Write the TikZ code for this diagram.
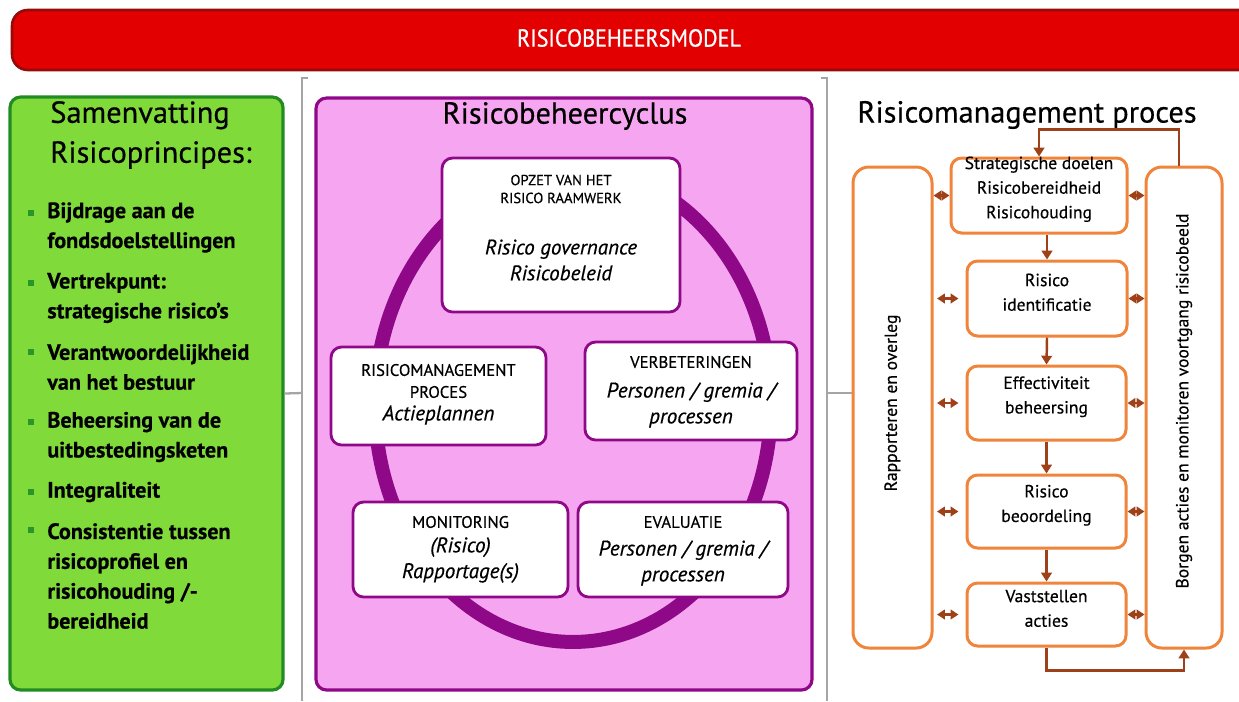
\documentclass[tikz,border=0pt]{standalone}
\usepackage{fontspec}
\setmainfont{PT Sans}[FakeBold=0.5]
\newfontfamily\bannerfont{PT Sans}[FakeStretch=0.9, FakeBold=0.8]
\usetikzlibrary{positioning,fit,arrows.meta}
\definecolor{bannerRed}{RGB}{226,0,0}
\definecolor{bannerDark}{RGB}{150,10,10}
\definecolor{leafGreen}{RGB}{128,218,58}
\definecolor{leafDark}{RGB}{34,140,34}
\definecolor{bulletGreen}{RGB}{40,150,40}
\definecolor{cyclePink}{RGB}{246,166,240}
\definecolor{cyclePurple}{RGB}{142,8,136}
\definecolor{procOrange}{RGB}{240,132,58}
\definecolor{arrowBrown}{RGB}{158,64,24}
\definecolor{bracketGray}{RGB}{165,165,165}

\begin{document}
\begin{tikzpicture}[x=0.02cm, y=-0.02cm,
    headtext/.style={font=\fontsize{17.3}{22.7}\selectfont},
    principe/.style={align=left, inner sep=0pt, font=\bfseries\fontsize{12.6}{17}\selectfont},
    bracketline/.style={bracketGray, line width=1.3pt},
    cyclebox/.style={draw=cyclePurple, line width=1.6pt, fill=white, rounded corners=6pt, inner sep=0pt},
    capstext/.style={align=center, font=\fontsize{9.5}{12.5}\selectfont},
    italtext/.style={align=center, font=\itshape\fontsize{12}{14.7}\selectfont},
    procbox/.style={draw=procOrange, line width=1.7pt, fill=white, rounded corners=6pt, inner sep=0pt, align=center, font=\fontsize{10}{14}\selectfont},
    sidebox/.style={draw=procOrange, line width=1.7pt, fill=white, rounded corners=9pt, inner sep=0pt},
    flow/.style={arrowBrown, line width=1.4pt, -{Triangle[length=5pt,width=6pt]}},
    biarrow/.style={arrowBrown, line width=1.4pt, {Triangle[length=4.5pt,width=5.5pt]}-{Triangle[length=4.5pt,width=5.5pt]}}]
  \useasboundingbox (0,0) rectangle (1239,701);

  % banner
  \node[fit={(12,10) (1262,70)}, inner sep=0pt, fill=bannerRed, draw=bannerDark, line width=1.5pt, rounded corners=9pt] (banner) {};
  \node[text=white, font=\bannerfont\fontsize{14}{16}\selectfont] (bannerText) at (629,38) {RISICOBEHEERSMODEL};

  % brackets round the cycle
  \draw[bracketline] (308,78) -- (302,78) -- (302,701);
  \draw[bracketline] (821,78) -- (827,78) -- (827,701);
  \coordinate (brLeft) at (302,393);
  \coordinate (brRight) at (827,393);

  % left panel
  \node[fit={(10,97) (283,690)}, inner sep=0pt, fill=leafGreen, draw=leafDark, line width=1.8pt, rounded corners=6pt] (samen) {};
  \node[headtext, align=left, anchor=west, inner sep=0pt] (samenTitle) at (50,135) {Samenvatting\\Risicoprincipes:};
  \foreach \yc/\yb/\txt [count=\i] in {227.5/213/{Bijdrage aan de\\fondsdoelstellingen},
      298/283/{Vertrekpunt:\\strategische risico's},
      367/352/{Verantwoordelijkheid\\van het bestuur},
      437/422/{Beheersing van de\\uitbestedingsketen},
      492/492/{Integraliteit},
      576/530/{Consistentie tussen\\risicoprofiel en\\risicohouding /-\\bereidheid}} {
    \fill[bulletGreen] (28,\yb-3) rectangle (34,\yb+3);
    \node[principe, anchor=west] (principe\i) at (47,\yc) {\txt};
  }
  \draw[bracketline] (samen.east) -- (brLeft);

  % middle panel
  \node[fit={(316,98) (812,690)}, inner sep=0pt, fill=cyclePink, draw=cyclePurple, line width=1.8pt, rounded corners=6pt] (cyclus) {};
  \node[headtext] (cyclusTitle) at (565,116) {Risicobeheercyclus};
  \draw[cyclePurple, line width=0.28cm] (573,405) ellipse [x radius=3.96cm, y radius=4.74cm];

  \node[cyclebox, fit={(442,158) (680,312)}] (opzet) {};
  \node[capstext, font=\fontsize{8.3}{10.2}\selectfont] (opzetHead) at (opzet.center |- 0,189) {OPZET VAN HET\\RISICO RAAMWERK};
  \node[italtext] (opzetBody) at (opzet.center |- 0,260) {Risico governance\\Risicobeleid};

  \node[cyclebox, fit={(331,347) (546,445)}] (rismgt) {};
  \node[capstext] (rismgtHead) at (rismgt.center |- 0,381) {RISICOMANAGEMENT\\PROCES};
  \node[italtext] (rismgtBody) at (rismgt.center |- 0,415) {Actieplannen};

  \node[cyclebox, fit={(585,342) (797,440)}] (verbeter) {};
  \node[capstext] (verbeterHead) at (verbeter.center |- 0,362) {VERBETERINGEN};
  \node[italtext] (verbeterBody) at (verbeter.center |- 0,405) {Personen / gremia /\\processen};

  \node[cyclebox, fit={(353,502) (568,597)}] (monitor) {};
  \node[capstext] (monitorHead) at (monitor.center |- 0,522) {MONITORING};
  \node[italtext] (monitorBody) at (monitor.center |- 0,560) {(Risico)\\Rapportage(s)};

  \node[cyclebox, fit={(578,502) (788,597)}] (evaluatie) {};
  \node[capstext] (evaluatieHead) at (evaluatie.center |- 0,522) {EVALUATIE};
  \node[italtext] (evaluatieBody) at (evaluatie.center |- 0,563) {Personen / gremia /\\processen};

  % right panel
  \node[headtext] (procesTitle) at (1027,115) {Risicomanagement proces};
  \node[sidebox, fit={(853,167) (932,648)}] (rapport) {};
  \node[rotate=90, font=\fontsize{10}{12}\selectfont] (rapportText) at (rapport.center |- 0,403) {Rapporteren en overleg};
  \node[sidebox, fit={(1146,167) (1222,648)}] (borgen) {};
  \node[rotate=90, font=\fontsize{10}{12}\selectfont] (borgenText) at (borgen.center |- 0,401) {Borgen acties en monitoren voortgang risicobeeld};
  \draw[bracketline] (brRight) -- (rapport.west |- brRight);

  \node[procbox, fit={(951,158) (1127,233)}] (doelen) {Strategische doelen\\Risicobereidheid\\Risicohouding};
  \node[procbox, fit={(967,261) (1127,336)}] (ident) {Risico\\identificatie};
  \node[procbox, fit={(967,366) (1126,440)}] (effect) {Effectiviteit\\beheersing};
  \node[procbox, fit={(967,475) (1126,548)}] (beoord) {Risico\\beoordeling};
  \node[procbox, fit={(967,583) (1126,646)}] (acties) {Vaststellen\\acties};

  \draw[flow] (ident.north |- doelen.south) -- (ident.north);
  \draw[flow] (ident.south) -- (effect.north);
  \draw[flow] (effect.south) -- (beoord.north);
  \draw[flow] (beoord.south) -- (acties.north);
  \draw[flow] (acties.south) -- ++(0,23) -| (borgen.south);
  \draw[flow] ([xshift=-3pt]borgen.north) -- ++(0,-36) -| (doelen.north);

  \draw[biarrow] (rapport.east |- doelen.west) -- (doelen.west);
  \draw[biarrow] (doelen.east) -- (borgen.west |- doelen.east);
  \foreach \stap in {ident, effect, beoord, acties} {
    \draw[biarrow, shorten <=2pt, shorten >=4pt] (rapport.east |- \stap.west) -- (\stap.west);
    \draw[biarrow] (\stap.east) -- (borgen.west |- \stap.east);
  }
\end{tikzpicture}
\end{document}
